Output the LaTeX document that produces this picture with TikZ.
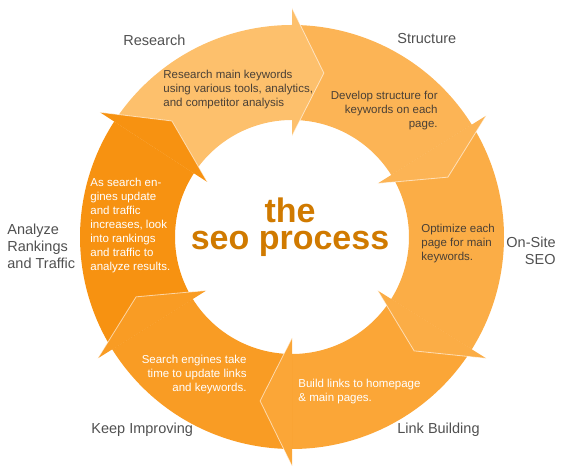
\documentclass[tikz,border=0pt]{standalone}
\usepackage{fontspec}
\setmainfont{Liberation Sans}
\usetikzlibrary{positioning}
\definecolor{resC}{HTML}{FDC06C}
\definecolor{strC}{HTML}{FCB455}
\definecolor{onsC}{HTML}{FBAD46}
\definecolor{lnkC}{HTML}{FBA637}
\definecolor{kepC}{HTML}{F99C24}
\definecolor{anaC}{HTML}{F79211}
\definecolor{labC}{HTML}{505050}
\definecolor{txtC}{HTML}{4A4036}
\definecolor{ttlC}{HTML}{D07A00}
\tikzset{every picture/.style={line width=0.8pt}}

\begin{document}
\begin{tikzpicture}[x=1pt, y=1pt,
    outerlabel/.style={text=labC, font=\fontsize{14.5}{17}\selectfont, inner sep=0pt},
    stepinfo/.style={font=\fontsize{11.5}{14}\selectfont, inner sep=0pt}]
\useasboundingbox (0,0) rectangle (565,473);

    % Ring bands
\begin{scope}[shift={(292,236)}]
\foreach \tail/\base/\col in {147/90/resC, 90/32/strC, 32/-32/onsC, -32/-90/lnkC, -90/-148/kepC, 212/147/anaC}
    \fill[\col] (\tail:212) arc[start angle=\tail, end angle=\base, radius=212]
        -- (\base:117) arc[start angle=\base, end angle=\tail, radius=117] -- cycle;
    % Arrow heads
\foreach \base/\col in {90/resC, 32/strC, -32/onsC, -90/lnkC, -148/kepC, 147/anaC}
    \filldraw[fill=\col, draw=white, draw opacity=0.6] (\base:229) -- (\base-11:167) -- (\base:101);
\end{scope}

    % Title
\node[text=ttlC, font=\fontsize{34}{27}\selectfont\bfseries, align=center, inner sep=0pt] (title) at (290,245.5) {the\\seo process};

    % Step texts
\node[stepinfo, text=txtC, align=left, anchor=west] (resinfo) at (163,383.5) {Research main keywords\\using various tools, analytics,\\and competitor analysis};
\node[stepinfo, text=txtC, align=right, anchor=east] (strinfo) at (438,362) {Develop structure for\\keywords on each\\page.};
\node[stepinfo, text=txtC, align=left, anchor=west] (onsinfo) at (421,229) {Optimize each\\page for main\\keywords.};
\node[stepinfo, text=white, align=left, anchor=west] (lnkinfo) at (298,81.5) {Build links to homepage\\\& main pages.};
\node[stepinfo, text=white, align=right, anchor=east] (kepinfo) at (247,98) {Search engines take\\time to update links\\and keywords.};
\node[stepinfo, text=white, align=left, anchor=west] (anainfo) at (90,247.5) {As search en-\\gines update\\and traffic\\increases, look\\into rankings\\and traffic to\\analyze results.};

    % Labels
\node[outerlabel, anchor=west] (research) at (123,433) {Research};
\node[outerlabel, anchor=west] (structure) at (397,434) {Structure};
\node[outerlabel, anchor=east, align=right] (onsite) at (556,222.5) {On-Site\\SEO};
\node[outerlabel, anchor=west] (linkbuild) at (397,43) {Link Building};
\node[outerlabel, anchor=west] (keepimp) at (91,43) {Keep Improving};
\node[outerlabel, anchor=west, align=left] (analyze) at (7,227) {Analyze\\Rankings\\and Traffic};
\end{tikzpicture}
\end{document}
